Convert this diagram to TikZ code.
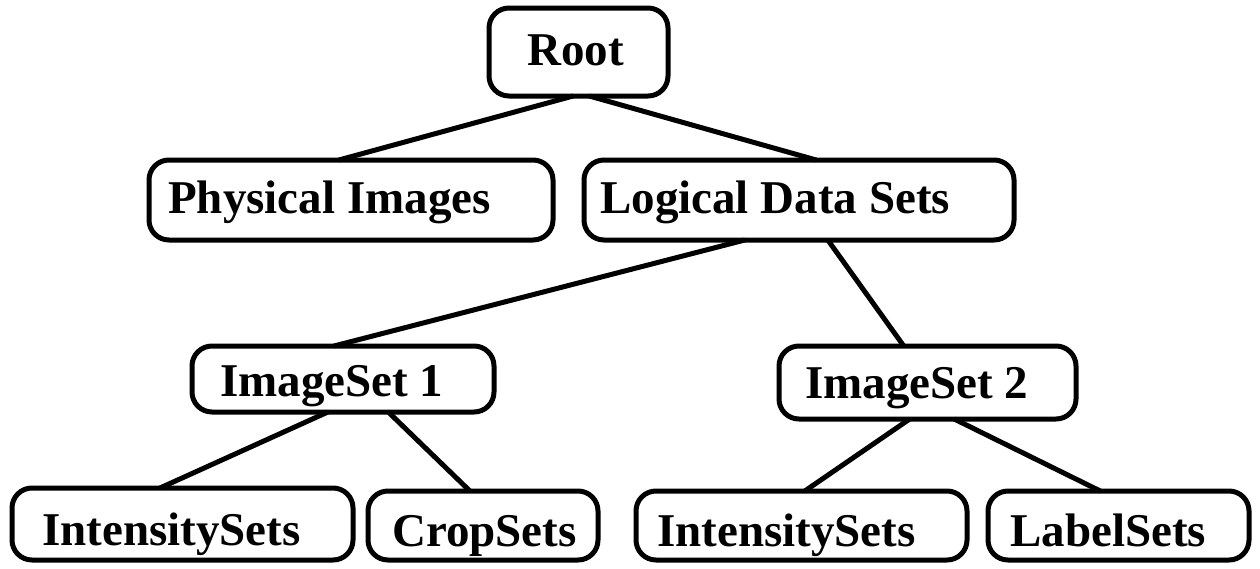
\documentclass[tikz,border=0pt]{standalone}
\usepackage{fontspec}
\setmainfont{Liberation Serif}
\usetikzlibrary{calc}
\tikzset{
  box/.style={draw=black, line width=5pt, rounded corners=20pt, inner sep=0pt, outer sep=0pt},
  lbl/.style={anchor=base west, inner sep=0pt, font=\fontsize{47}{56}\selectfont\bfseries},
  link/.style={draw=black, line width=5pt}
}
\newcommand{\boxat}[5]{% name, x1, y1, x2, y2
  \node[box, minimum width={(#4-#2)*1pt}, minimum height={(#5-#3)*1pt}] (#1) at ({(#2+#4)/2},{(#3+#5)/2}) {};}
\begin{document}
\begin{tikzpicture}[x=1pt,y=-1pt]
\useasboundingbox[fill=white] (0,0) rectangle (1260,568);
\boxat{root}{489}{8}{668}{96}
\boxat{phys}{149}{160}{553}{240}
\boxat{logi}{584}{160}{1014}{240}
\boxat{isa}{192}{346}{494}{412}
\boxat{isb}{779}{346}{1076}{419}
\boxat{inta}{12}{488}{353}{560}
\boxat{crop}{368}{491}{598}{560}
\boxat{intb}{636}{491}{967}{560}
\boxat{labs}{988}{491}{1249}{560}

\node[lbl] (troot) at (527,65) {Root};
\node[lbl] (tphys) at (168,213) {Physical Images};
\node[lbl] (tlogi) at (600,213) {Logical Data Sets};
\node[lbl] (tisa) at (220,396) {ImageSet 1};
\node[lbl] (tisb) at (805,398) {ImageSet 2};
\node[lbl] (tinta) at (42,545) {IntensitySets};
\node[lbl] (tcrop) at (392,546) {CropSets};
\node[lbl] (tintb) at (657,546) {IntensitySets};
\node[lbl] (tlabs) at (1010,546) {LabelSets};

\draw[link] ($(root.south west)!0.47!(root.south east)$) -- ($(phys.north west)!0.47!(phys.north east)$);
\draw[link] ($(root.south west)!0.56!(root.south east)$) -- ($(logi.north west)!0.54!(logi.north east)$);
\draw[link] ($(logi.south west)!0.374!(logi.south east)$) -- ($(isa.north west)!0.47!(isa.north east)$);
\draw[link] ($(logi.south west)!0.567!(logi.south east)$) -- ($(isb.north west)!0.42!(isb.north east)$);
\draw[link] ($(isa.south west)!0.45!(isa.south east)$) -- ($(inta.north west)!0.434!(inta.north east)$);
\draw[link] ($(isa.south west)!0.65!(isa.south east)$) -- ($(crop.north west)!0.443!(crop.north east)$);
\draw[link] ($(isb.south west)!0.44!(isb.south east)$) -- ($(intb.north west)!0.51!(intb.north east)$);
\draw[link] ($(isb.south west)!0.59!(isb.south east)$) -- ($(labs.north west)!0.43!(labs.north east)$);
\end{tikzpicture}
\end{document}
